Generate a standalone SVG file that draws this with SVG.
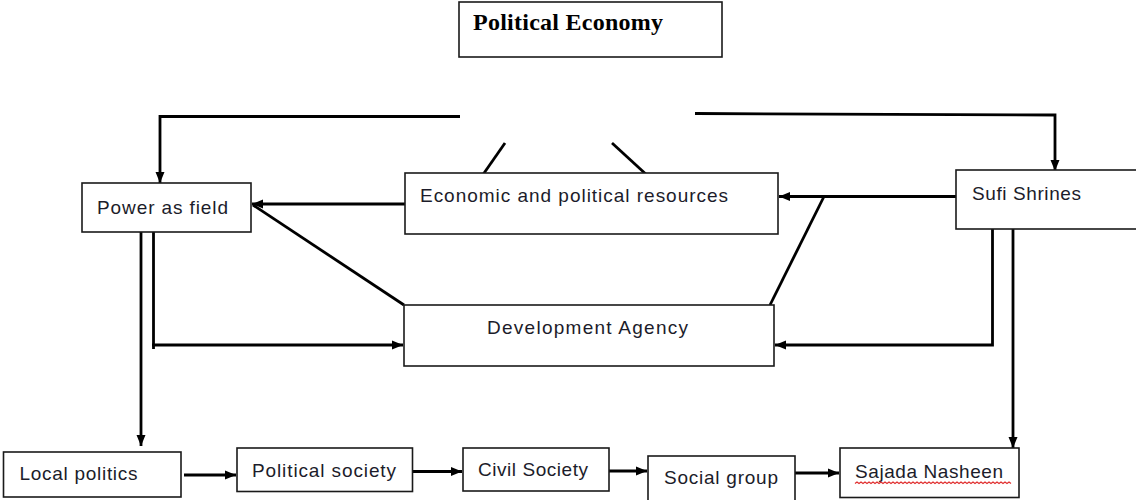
<svg xmlns="http://www.w3.org/2000/svg" width="1136" height="500" viewBox="0 0 1136 500">
  <style>
    .box { fill: #ffffff; stroke: #1a1a1a; stroke-width: 1.6; }
    .lbl { font-family: "Liberation Sans", Arial, sans-serif; font-size: 19px; fill: #1c1c2a; }
    .title { font-family: "Liberation Serif", "Times New Roman", serif; font-size: 24px; font-weight: bold; fill: #000; }
    .conn { fill: none; stroke: #000; stroke-width: 2.8; }
    .arr { marker-end: url(#head); }
  </style>
  <defs>
    <marker id="head" markerUnits="userSpaceOnUse" markerWidth="12" markerHeight="10" refX="11" refY="5" orient="auto">
      <path d="M0,0.5 L11,5 L0,9.5 z" fill="#000"/>
    </marker>
  </defs>
  <rect width="1136" height="500" fill="#ffffff"/>

  <!-- connectors -->
  <g id="connectors">
    <path class="conn arr" d="M460,116.5 H160 V183"/>
    <path class="conn arr" d="M695,113.5 L1055,115 V171"/>
    <path class="conn" d="M505,143 L482,176"/>
    <path class="conn" d="M612,143 L649,177"/>
    <path class="conn arr" d="M405,204 H252"/>
    <path class="conn" d="M253,205 L404,305"/>
    <path class="conn arr" d="M141,232 V446"/>
    <path class="conn" d="M153.5,232 V349"/>
    <path class="conn arr" d="M152,345 H403"/>
    <path class="conn arr" d="M958,196.5 H779"/>
    <path class="conn" d="M824,196.5 L770,305"/>
    <path class="conn arr" d="M992.5,229 V345 H775"/>
    <path class="conn arr" d="M1013,223 V448"/>
    <path class="conn arr" d="M184,475 H236"/>
    <path class="conn arr" d="M412.5,471.5 H462"/>
    <path class="conn arr" d="M609,471 H647"/>
    <path class="conn arr" d="M795,473 H839"/>
  </g>

  <g id="political-economy">
    <rect class="box" x="459" y="2" width="263" height="55"/>
    <text class="title" x="473" y="30" textLength="190" lengthAdjust="spacing">Political Economy</text>
  </g>

  <g id="power-as-field">
    <rect class="box" x="82" y="183" width="169" height="49"/>
    <text class="lbl" x="97" y="214" textLength="131" lengthAdjust="spacing">Power as field</text>
  </g>

  <g id="economic-political-resources">
    <rect class="box" x="405" y="173" width="373" height="61"/>
    <text class="lbl" x="420" y="201.5" textLength="308" lengthAdjust="spacing">Economic and political resources</text>
  </g>

  <g id="sufi-shrines">
    <rect class="box" x="956" y="170" width="190" height="59"/>
    <text class="lbl" x="972" y="200" textLength="109" lengthAdjust="spacing">Sufi Shrines</text>
  </g>

  <g id="development-agency">
    <rect class="box" x="404" y="305" width="370" height="61"/>
    <text class="lbl" x="487" y="334" textLength="201" lengthAdjust="spacing">Development Agency</text>
  </g>

  <g id="local-politics">
    <rect class="box" x="3.5" y="452" width="177.5" height="45"/>
    <text class="lbl" x="19.5" y="480" textLength="118" lengthAdjust="spacing">Local politics</text>
  </g>

  <g id="political-society">
    <rect class="box" x="237" y="448" width="175.5" height="43.5"/>
    <text class="lbl" x="252" y="477" textLength="144" lengthAdjust="spacing">Political society</text>
  </g>

  <g id="civil-society">
    <rect class="box" x="463" y="448" width="146" height="43"/>
    <text class="lbl" x="478" y="476" textLength="110" lengthAdjust="spacing">Civil Society</text>
  </g>

  <g id="social-group">
    <rect class="box" x="648" y="456" width="147" height="46"/>
    <text class="lbl" x="664" y="484" textLength="114" lengthAdjust="spacing">Social group</text>
  </g>

  <g id="sajada-nasheen">
    <rect class="box" x="840" y="448" width="179" height="49.5"/>
    <text class="lbl" x="855" y="478" textLength="148" lengthAdjust="spacing">Sajada Nasheen</text>
    <!-- spell-check squiggle under the name -->
    <path d="M855,483.5 l2,-1.5 l2,1.5 l2,-1.5 l2,1.5 l2,-1.5 l2,1.5 l2,-1.5 l2,1.5 l2,-1.5 l2,1.5 l2,-1.5 l2,1.5 l2,-1.5 l2,1.5 l2,-1.5 l2,1.5 l2,-1.5 l2,1.5 l2,-1.5 l2,1.5 l2,-1.5 l2,1.5 l2,-1.5 l2,1.5 l2,-1.5 l2,1.5 l2,-1.5 l2,1.5 l2,-1.5 l2,1.5 l2,-1.5 l2,1.5 l2,-1.5 l2,1.5 l2,-1.5 l2,1.5 l2,-1.5 l2,1.5 l2,-1.5 l2,1.5 l2,-1.5 l2,1.5 l2,-1.5 l2,1.5 l2,-1.5 l2,1.5 l2,-1.5 l2,1.5 l2,-1.5 l2,1.5 l2,-1.5 l2,1.5 l2,-1.5 l2,1.5 l2,-1.5 l2,1.5 l2,-1.5 l2,1.5 l2,-1.5 l2,1.5 l2,-1.5 l2,1.5 l2,-1.5 l2,1.5 l2,-1.5 l2,1.5 l2,-1.5 l2,1.5 l2,-1.5 l2,1.5 l2,-1.5 l2,1.5 l2,-1.5 l2,1.5 l2,-1.5 l2,1.5 l2,-1.5 l2,1.5" fill="none" stroke="#e03030" stroke-width="1.2"/>
  </g>
</svg>
